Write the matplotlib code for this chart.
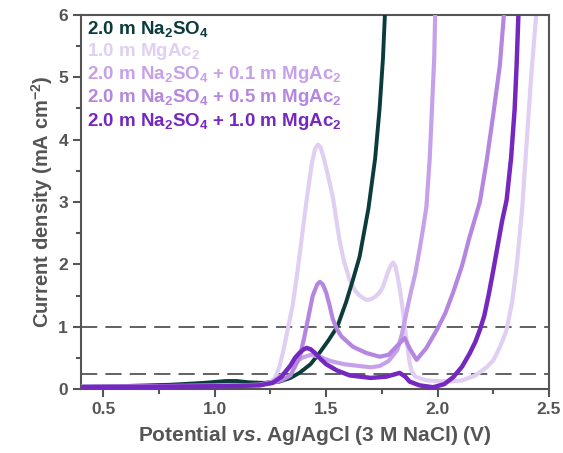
import matplotlib
matplotlib.use("Agg")
import matplotlib.pyplot as plt
from matplotlib.ticker import MultipleLocator

plt.rcParams['font.family'] = ['Liberation Sans', 'DejaVu Sans']
plt.rcParams['font.weight'] = 'bold'
plt.rcParams['mathtext.fontset'] = 'custom'
plt.rcParams['mathtext.rm'] = 'Liberation Sans:bold'
plt.rcParams['mathtext.bf'] = 'Liberation Sans:bold'
plt.rcParams['mathtext.it'] = 'Liberation Sans:italic:bold'

# potential (V vs Ag/AgCl) and current density (mA cm-2)
na2so4_v = [0.40, 0.60, 0.80, 0.95, 1.05, 1.10, 1.15, 1.22, 1.29, 1.34, 1.38, 1.43, 1.47,
            1.51, 1.55, 1.59, 1.62, 1.65, 1.69, 1.72, 1.74, 1.755, 1.765]
na2so4_j = [0.04, 0.05, 0.07, 0.10, 0.13, 0.13, 0.11, 0.10, 0.12, 0.18, 0.26, 0.40, 0.58,
            0.78, 1.00, 1.40, 1.75, 2.12, 2.90, 3.70, 4.50, 5.30, 6.10]

mgac_v = [0.40, 0.80, 1.10, 1.20, 1.25, 1.27, 1.29, 1.31, 1.33, 1.35, 1.37, 1.395, 1.415,
          1.435, 1.45, 1.463, 1.475, 1.49, 1.51, 1.53, 1.56, 1.58, 1.606, 1.63, 1.65, 1.68,
          1.70, 1.72, 1.74, 1.755, 1.77, 1.78, 1.79, 1.80, 1.81, 1.82, 1.83, 1.84, 1.85,
          1.86, 1.868, 1.875, 1.885, 1.90, 1.95, 2.05, 2.11, 2.17, 2.22, 2.25, 2.27, 2.29,
          2.31, 2.335, 2.355, 2.38, 2.40, 2.42, 2.445]
mgac_j = [0.04, 0.05, 0.06, 0.07, 0.10, 0.18, 0.35, 0.65, 1.00, 1.35, 1.85, 2.55, 3.10,
          3.60, 3.85, 3.92, 3.88, 3.70, 3.40, 3.08, 2.39, 2.05, 1.75, 1.58, 1.50, 1.43,
          1.44, 1.48, 1.55, 1.64, 1.80, 1.90, 1.98, 2.03, 1.98, 1.82, 1.62, 1.38, 1.10,
          0.80, 0.60, 0.42, 0.28, 0.20, 0.14, 0.12, 0.14, 0.22, 0.35, 0.46, 0.60, 0.76,
          0.95, 1.40, 1.96, 2.90, 3.95, 5.00, 6.10]

mix01_v = [0.40, 0.80, 1.10, 1.20, 1.26, 1.30, 1.35, 1.39, 1.43, 1.47, 1.52, 1.58, 1.65,
           1.70, 1.74, 1.78, 1.82, 1.84, 1.86, 1.88, 1.90, 1.92, 1.934, 1.95, 1.965, 1.975,
           1.985, 1.99]
mix01_j = [0.04, 0.05, 0.06, 0.07, 0.12, 0.22, 0.40, 0.50, 0.55, 0.52, 0.45, 0.40, 0.37,
           0.35, 0.37, 0.45, 0.63, 0.88, 1.22, 1.55, 1.85, 2.25, 2.55, 2.92, 3.70, 4.50,
           5.30, 6.10]

mix05_v = [0.40, 0.80, 1.10, 1.20, 1.26, 1.30, 1.34, 1.38, 1.40, 1.42, 1.44, 1.46, 1.472,
           1.485, 1.50, 1.515, 1.53, 1.55, 1.57, 1.62, 1.68, 1.74, 1.78, 1.82, 1.853, 1.875,
           1.906, 1.95, 2.00, 2.035, 2.07, 2.11, 2.144, 2.19, 2.22, 2.25, 2.28, 2.30]
mix05_j = [0.04, 0.05, 0.06, 0.07, 0.10, 0.14, 0.22, 0.50, 0.80, 1.15, 1.50, 1.68, 1.72,
           1.68, 1.55, 1.35, 1.12, 0.95, 0.84, 0.68, 0.58, 0.52, 0.55, 0.70, 0.82, 0.65,
           0.47, 0.66, 0.97, 1.22, 1.55, 1.98, 2.44, 3.00, 3.65, 4.40, 5.20, 6.10]

mix10_v = [0.40, 0.80, 1.10, 1.20, 1.26, 1.30, 1.34, 1.36, 1.38, 1.40, 1.413, 1.43, 1.45,
           1.47, 1.50, 1.548, 1.606, 1.70, 1.77, 1.80, 1.83, 1.855, 1.875, 1.92, 1.98, 2.03,
           2.07, 2.11, 2.144, 2.17, 2.19, 2.21, 2.23, 2.25, 2.27, 2.29, 2.31, 2.33, 2.346,
           2.355, 2.364]
mix10_j = [0.03, 0.04, 0.05, 0.06, 0.10, 0.20, 0.38, 0.50, 0.58, 0.64, 0.66, 0.64, 0.58,
           0.50, 0.40, 0.30, 0.22, 0.18, 0.20, 0.23, 0.26, 0.20, 0.12, 0.06, 0.03, 0.08,
           0.19, 0.36, 0.57, 0.76, 0.95, 1.18, 1.52, 1.90, 2.30, 2.70, 3.03, 3.70, 4.48,
           5.20, 6.10]

labels = [r'2.0 m Na$_\mathbf{2}$SO$_\mathbf{4}$',
          r'1.0 m MgAc$_\mathbf{2}$',
          r'2.0 m Na$_\mathbf{2}$SO$_\mathbf{4}$ + 0.1 m MgAc$_\mathbf{2}$',
          r'2.0 m Na$_\mathbf{2}$SO$_\mathbf{4}$ + 0.5 m MgAc$_\mathbf{2}$',
          r'2.0 m Na$_\mathbf{2}$SO$_\mathbf{4}$ + 1.0 m MgAc$_\mathbf{2}$']
colors = ['#0b3b3a', '#e0cff2', '#c6a1ea', '#b586e0', '#7528c0']

grey = '#555555'

fig = plt.figure(figsize=(5.63, 4.53), dpi=100)
ax = fig.add_axes([0.144, 0.141, 0.831, 0.826])

ax.axhline(1.0, color=grey, lw=1.3, ls=(0, (9, 4.5)), zorder=1)
ax.axhline(0.25, color=grey, lw=1.3, ls=(0, (9, 4.5)), zorder=1)

ax.plot(mgac_v, mgac_j, color=colors[1], lw=3.0, label=labels[1], zorder=2)
ax.plot(na2so4_v, na2so4_j, color=colors[0], lw=2.8, label=labels[0], zorder=3)
ax.plot(mix01_v, mix01_j, color=colors[2], lw=3.0, label=labels[2], zorder=4)
ax.plot(mix05_v, mix05_j, color=colors[3], lw=3.0, label=labels[3], zorder=5)
ax.plot(mix10_v, mix10_j, color=colors[4], lw=3.2, label=labels[4], zorder=6)

# coloured text legend, no handles
handles, labs = ax.get_legend_handles_labels()
order = [labs.index(l) for l in labels]
leg = ax.legend([handles[i] for i in order], [labs[i] for i in order],
                loc='upper left', frameon=False, handlelength=0, handletextpad=0,
                labelcolor='linecolor', fontsize=13.5, labelspacing=0.12,
                borderaxespad=0.1, bbox_to_anchor=(-0.008, 1.015))
for h in leg.legend_handles:
    h.set_visible(False)

ax.set_xlim(0.4, 2.5)
ax.set_ylim(0, 6)
ax.xaxis.set_major_locator(MultipleLocator(0.5))
ax.xaxis.set_minor_locator(MultipleLocator(0.25))
ax.yaxis.set_major_locator(MultipleLocator(1))
ax.yaxis.set_minor_locator(MultipleLocator(0.5))
ax.tick_params(which='major', direction='out', length=6, width=1.5, color=grey,
               labelcolor=grey, labelsize=12.5)
ax.tick_params(which='minor', direction='out', length=3.5, width=1.5, color=grey)
for s in ax.spines.values():
    s.set_color(grey)
    s.set_linewidth(1.5)

ax.set_xlabel(r'Potential $\mathit{vs}$. Ag/AgCl (3 M NaCl) (V)', color=grey,
              fontsize=15, fontweight='bold', labelpad=5)
ax.set_ylabel(r'Current density (mA cm$^\mathbf{-2}$)', color=grey,
              fontsize=14.5, fontweight='bold', labelpad=2)

plt.savefig('out.png', dpi=100)
